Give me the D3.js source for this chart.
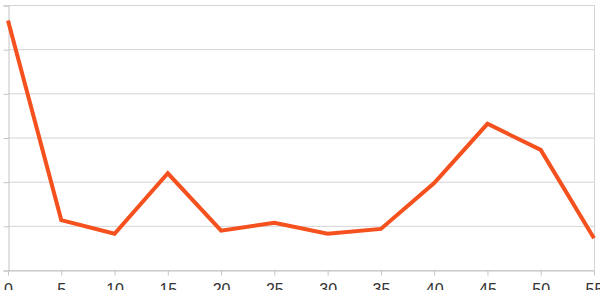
<!DOCTYPE html>
<html>
<head>
<meta charset="utf-8">
<script src="https://cdn.jsdelivr.net/npm/d3@7"></script>
<style>
  body { margin: 0; background: #fff; }
  svg { display: block; }
</style>
</head>
<body>
<svg id="chart" width="600" height="290"></svg>
<script>
// values
const xs = [0, 5, 10, 15, 20, 25, 30, 35, 40, 45, 50, 55];
const ys = [5.65, 1.13, 0.82, 2.19, 0.89, 1.07, 0.82, 0.93, 1.97, 3.31, 2.72, 0.72];
const xTicks = [0, 5, 10, 15, 20, 25, 30, 35, 40, 45, 50, 55];
const yTicks = [0, 1, 2, 3, 4, 5, 6];

const width = 600;
const height = 290;
const margin = { top: 5, right: 6, bottom: 20, left: 8 };

const svg = d3.select("#chart");

const x = d3.scaleLinear()
  .domain([0, 55])
  .range([margin.left, width - margin.right]);

const y = d3.scaleLinear()
  .domain([0, 6])
  .range([height - margin.bottom, margin.top]);

// horizontal grid
svg.append("g")
  .selectAll("line")
  .data(yTicks)
  .join("line")
  .attr("x1", margin.left)
  .attr("x2", width - margin.right)
  .attr("y1", d => y(d) + 0.5)
  .attr("y2", d => y(d) + 0.5)
  .attr("stroke", "#d4d4d4")
  .attr("stroke-width", 1);

// right border
svg.append("line")
  .attr("x1", width - margin.right + 0.5)
  .attr("x2", width - margin.right + 0.5)
  .attr("y1", margin.top)
  .attr("y2", height - margin.bottom)
  .attr("stroke", "#d4d4d4");

// y axis (labels sit outside the window)
const yAxis = svg.append("g")
  .attr("transform", `translate(${margin.left + 0.5},0.5)`)
  .call(d3.axisLeft(y).tickValues(yTicks).tickSize(5).tickFormat(""));
yAxis.selectAll("path, line").attr("stroke", "#c4c4c4");

// x axis, labels run off the bottom edge like in the original
const xAxis = svg.append("g")
  .attr("transform", `translate(0,${height - margin.bottom + 0.5})`)
  .call(d3.axisBottom(x).tickValues(xTicks).tickSize(5).tickSizeOuter(0));
xAxis.selectAll("path, line").attr("stroke", "#c4c4c4");
xAxis.selectAll("text")
  .attr("fill", "#333")
  .attr("y", 13)
  .attr("dy", "0.71em")
  .style("font-family", "Helvetica, 'Liberation Sans', Arial, sans-serif")
  .style("font-size", "16px");

// series line
const line = d3.line()
  .x((d, i) => x(xs[i]))
  .y(d => y(d));

svg.append("path")
  .datum(ys)
  .attr("d", line)
  .attr("fill", "none")
  .attr("stroke", "#f4511e")
  .attr("stroke-width", 4)
  .attr("stroke-linejoin", "miter");
</script>
</body>
</html>
